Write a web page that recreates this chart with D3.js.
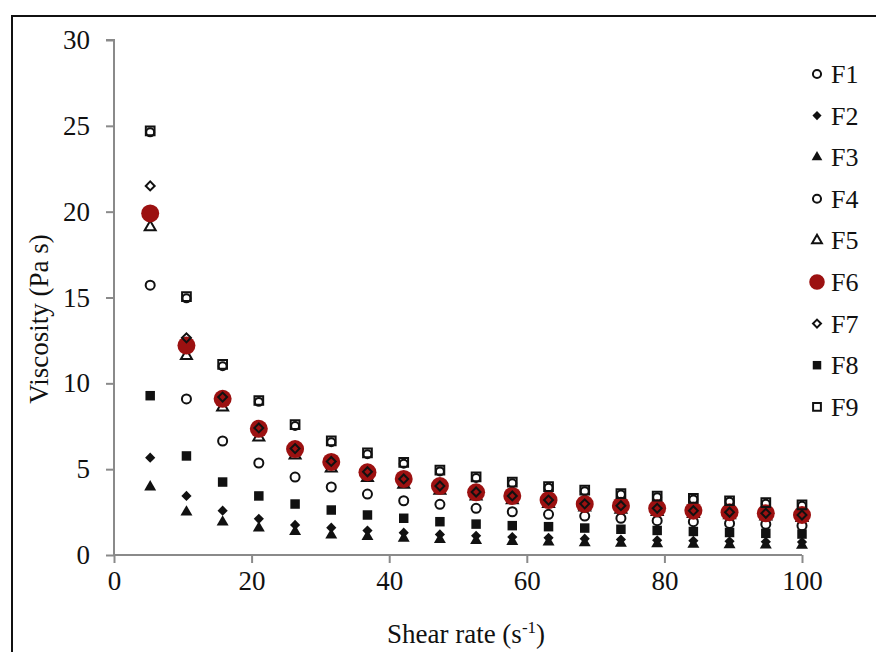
<!DOCTYPE html>
<html>
<head>
<meta charset="utf-8">
<script src="https://cdn.jsdelivr.net/npm/d3@7"></script>
<style>
  body { margin: 0; background: #fff; }
  text { font-family: "Liberation Serif", "Times New Roman", serif; fill: #111; }
</style>
</head>
<body>
<div id="chart-area"></div>
<script>
// canvas size
var width = 876,
	height = 652;

// shear rate (s-1)
var shearRate = [5.26, 10.53, 15.79, 21.05, 26.32, 31.58, 36.84, 42.11, 47.37, 52.63,
	57.89, 63.16, 68.42, 73.68, 78.95, 84.21, 89.47, 94.74, 100];

// viscosity (Pa s) per formulation
var F1 = [24.62, 14.95, 11.0, 8.92, 7.52, 6.57, 5.87, 5.32, 4.87, 4.48, 4.18, 3.92, 3.72, 3.52, 3.37, 3.24, 3.1, 2.99, 2.87];
var F2 = [5.67, 3.44, 2.58, 2.11, 1.75, 1.59, 1.42, 1.3, 1.2, 1.12, 1.05, 1.0, 0.95, 0.9, 0.86, 0.83, 0.8, 0.77, 0.75];
var F3 = [3.96, 2.5, 1.92, 1.57, 1.36, 1.16, 1.07, 0.98, 0.9, 0.84, 0.79, 0.75, 0.71, 0.68, 0.65, 0.62, 0.6, 0.58, 0.56];
var F4 = [15.72, 9.09, 6.64, 5.36, 4.54, 3.96, 3.55, 3.16, 2.95, 2.72, 2.52, 2.37, 2.27, 2.14, 2.0, 1.94, 1.84, 1.79, 1.71];
var F5 = [19.1, 11.6, 8.6, 6.85, 5.8, 5.05, 4.5, 4.1, 3.75, 3.42, 3.2, 2.98, 2.78, 2.65, 2.52, 2.4, 2.32, 2.25, 2.17];
var F6 = [19.9, 12.2, 9.1, 7.35, 6.17, 5.42, 4.82, 4.43, 4.02, 3.65, 3.44, 3.2, 2.97, 2.87, 2.72, 2.58, 2.49, 2.43, 2.33];
var F7 = [21.5, 12.65, 9.2, 7.4, 6.2, 5.45, 4.85, 4.43, 4.02, 3.67, 3.44, 3.2, 2.98, 2.87, 2.72, 2.58, 2.49, 2.43, 2.33];
var F8 = [9.28, 5.77, 4.25, 3.44, 2.97, 2.62, 2.33, 2.14, 1.94, 1.8, 1.71, 1.65, 1.57, 1.5, 1.43, 1.37, 1.31, 1.26, 1.22];
var F9 = [24.7, 15.05, 11.1, 9.0, 7.6, 6.65, 5.95, 5.4, 4.95, 4.55, 4.25, 3.98, 3.78, 3.58, 3.43, 3.3, 3.16, 3.05, 2.92];

var seriesNames = ["F1", "F2", "F3", "F4", "F5", "F6", "F7", "F8", "F9"];
var seriesValues = [F1, F2, F3, F4, F5, F6, F7, F8, F9];

var xTicks = [0, 20, 40, 60, 80, 100];
var yTicks = [0, 5, 10, 15, 20, 25, 30];

// marker style for each formulation
var markers = {
	F1: {shape: d3.symbolCircle, size: 50, fill: "none", stroke: "#111", rot: 0},
	F2: {shape: d3.symbolSquare, size: 52, fill: "#111", stroke: "none", rot: 45},
	F3: {shape: d3.symbolTriangle, size: 62, fill: "#111", stroke: "none", rot: 0},
	F4: {shape: d3.symbolCircle, size: 64, fill: "none", stroke: "#111", rot: 0},
	F5: {shape: d3.symbolTriangle, size: 52, fill: "none", stroke: "#111", rot: 0},
	F6: {shape: d3.symbolCircle, size: 254, fill: "#9c1111", stroke: "none", rot: 0},
	F7: {shape: d3.symbolSquare, size: 40, fill: "none", stroke: "#111", rot: 45},
	F8: {shape: d3.symbolSquare, size: 90, fill: "#111", stroke: "none", rot: 0},
	F9: {shape: d3.symbolSquare, size: 76, fill: "none", stroke: "#111", rot: 0}
};

var svg = d3.select("#chart-area").append("svg")
	.attr("width", width)
	.attr("height", height);

// outer frame (runs off the right / bottom edge like the screenshot)
svg.append("rect")
	.attr("x", 12).attr("y", 16)
	.attr("width", 900).attr("height", 700)
	.attr("fill", "#fff")
	.attr("stroke", "#111")
	.attr("stroke-width", 2);

var xScale = d3.scaleLinear().domain([0, 100]).range([114, 802]);
var yScale = d3.scaleLinear().domain([0, 30]).range([555, 40]);

var axisColor = "#8a8a8a";

var xAxis = d3.axisBottom(xScale).tickValues(xTicks).tickSize(8).tickPadding(8);
var yAxis = d3.axisLeft(yScale).tickValues(yTicks).tickSize(8).tickPadding(16);

var gx = svg.append("g")
	.attr("class", "xAxis")
	.attr("transform", "translate(0," + yScale(0) + ")")
	.call(xAxis);
var gy = svg.append("g")
	.attr("class", "yAxis")
	.attr("transform", "translate(" + xScale(0) + ",0)")
	.call(yAxis);

[gx, gy].forEach(function(g) {
	g.attr("font-family", null);
	g.select(".domain").attr("stroke", axisColor).attr("stroke-width", 2);
	g.selectAll(".tick line").attr("stroke", axisColor).attr("stroke-width", 2);
	g.selectAll(".tick text")
		.attr("font-size", 27)
		.attr("fill", "#111");
});
gy.select(".domain").attr("d", "M-8," + yScale(30) + "H0V" + yScale(0));
gx.select(".domain").attr("d", "M" + xScale(0) + ",0H" + xScale(100));

// points
seriesNames.forEach(function(name, i) {
	var m = markers[name];
	var sym = d3.symbol().type(m.shape).size(m.size);
	svg.append("g").attr("class", "series " + name)
		.selectAll("path")
		.data(seriesValues[i])
		.enter()
		.append("path")
		.attr("d", sym)
		.attr("transform", function(d, j) {
			return "translate(" + xScale(shearRate[j]) + "," + yScale(d) + ") rotate(" + m.rot + ")";
		})
		.attr("fill", m.fill)
		.attr("stroke", m.stroke)
		.attr("stroke-width", 2);
});

// legend
var legend = svg.append("g").attr("class", "legend");
seriesNames.forEach(function(name, i) {
	var m = markers[name];
	var ly = 74 + i * 41.6;
	var lsize = name == "F6" ? 190 : (name == "F1" ? 52 : m.size * 0.8);
	legend.append("path")
		.attr("d", d3.symbol().type(m.shape).size(lsize))
		.attr("transform", "translate(817," + ly + ") rotate(" + m.rot + ")")
		.attr("fill", m.fill)
		.attr("stroke", m.stroke)
		.attr("stroke-width", 2);
	legend.append("text")
		.attr("x", 831)
		.attr("y", ly + 9)
		.attr("font-size", 26)
		.text(name);
});

// axis labels
svg.append("text")
	.attr("text-anchor", "middle")
	.attr("x", 466)
	.attr("y", 643)
	.attr("font-size", 27)
	.html("Shear rate (s<tspan dy='-10' font-size='17'>-1</tspan><tspan dy='10'>)</tspan>");

svg.append("text")
	.attr("text-anchor", "middle")
	.attr("transform", "translate(48,319) rotate(-90)")
	.attr("font-size", 27)
	.text("Viscosity (Pa s)");
</script>
</body>
</html>
